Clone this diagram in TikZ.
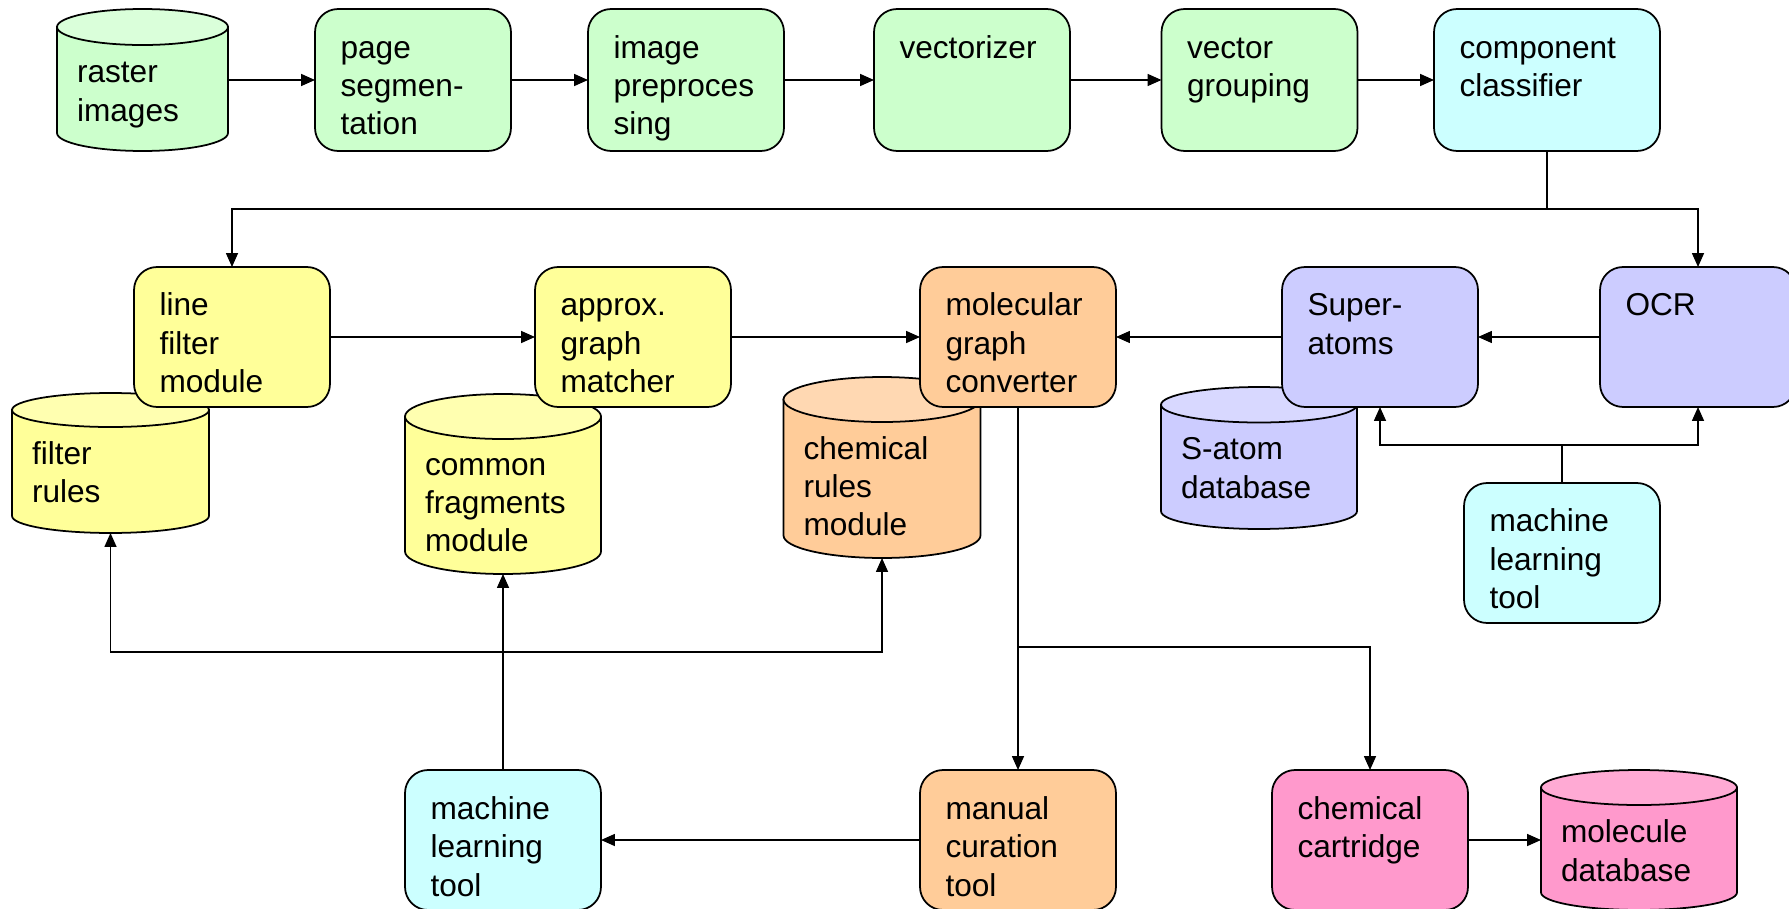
\documentclass[tikz,border=0pt]{standalone}
\usepackage{fontspec}
\setmainfont{Liberation Sans}
\usepackage{tikz}
\usetikzlibrary{positioning,arrows.meta}

\definecolor{grn}{HTML}{CCFFCC}
\definecolor{grntop}{HTML}{DAFFDA}
\definecolor{cyn}{HTML}{CCFFFF}
\definecolor{ylw}{HTML}{FFFF99}
\definecolor{ylwtop}{HTML}{FFFFB0}
\definecolor{org}{HTML}{FFCC99}
\definecolor{orgtop}{HTML}{FFD8B2}
\definecolor{lav}{HTML}{CCCCFF}
\definecolor{lavtop}{HTML}{D8D8FF}
\definecolor{pnk}{HTML}{FF99CC}
\definecolor{pnktop}{HTML}{FFAAD4}

\newcommand{\boxstrut}{\rule{0pt}{15.3pt}}

\begin{document}
\begin{tikzpicture}[x=0.02cm, y=0.02cm, every node/.style={outer sep=0pt},
  box/.style={draw, line width=1pt, rounded corners=0.46cm, inner sep=0pt, minimum width=3.92cm, minimum height=2.8cm},
  can/.style={inner sep=0pt, minimum width=3.92cm},
  txt/.style={inner sep=0pt, align=left, font=\fontsize{18}{21.8}\selectfont},
  arr/.style={line width=0.9pt, -{Triangle[length=0.28cm,width=0.24cm]}},
  line/.style={line width=0.9pt}]
\path[use as bounding box, fill=white] (0,0) rectangle (1789,-909);

\node[can, minimum width=3.42cm, minimum height=2.84cm] (raster) at (142.5,-80) {};
\draw[line width=1pt, fill=grn] ([yshift=-0.36cm]raster.north west) -- ([yshift=0.36cm]raster.south west) arc[start angle=180, end angle=360, x radius=1.71cm, y radius=0.36cm] -- ([yshift=-0.36cm]raster.north east) -- cycle;
\draw[line width=1pt, fill=grntop] ([yshift=-0.36cm]raster.north) ellipse[x radius=1.71cm, y radius=0.36cm];
\node[txt, below right=0.94cm and 0.4cm of raster.north west] (raster-t) {\boxstrut raster\\images};

\node[can, minimum width=3.94cm, minimum height=2.8cm] (filterrules) at (110.5,-463) {};
\draw[line width=1pt, fill=ylw] ([yshift=-0.34cm]filterrules.north west) -- ([yshift=0.34cm]filterrules.south west) arc[start angle=180, end angle=360, x radius=1.97cm, y radius=0.34cm] -- ([yshift=-0.34cm]filterrules.north east) -- cycle;
\draw[line width=1pt, fill=ylwtop] ([yshift=-0.34cm]filterrules.north) ellipse[x radius=1.97cm, y radius=0.34cm];
\node[txt, below right=0.89cm and 0.4cm of filterrules.north west] (filterrules-t) {\boxstrut filter\\rules};

\node[can, minimum height=3.6cm] (fragments) at (503,-484) {};
\draw[line width=1pt, fill=ylw] ([yshift=-0.45cm]fragments.north west) -- ([yshift=0.45cm]fragments.south west) arc[start angle=180, end angle=360, x radius=1.96cm, y radius=0.45cm] -- ([yshift=-0.45cm]fragments.north east) -- cycle;
\draw[line width=1pt, fill=ylwtop] ([yshift=-0.45cm]fragments.north) ellipse[x radius=1.96cm, y radius=0.45cm];
\node[txt, below right=1.09cm and 0.4cm of fragments.north west] (fragments-t) {\boxstrut common\\fragments\\module};

\node[can, minimum width=3.94cm, minimum height=3.62cm] (chemrules) at (882,-467.5) {};
\draw[line width=1pt, fill=org] ([yshift=-0.45cm]chemrules.north west) -- ([yshift=0.45cm]chemrules.south west) arc[start angle=180, end angle=360, x radius=1.97cm, y radius=0.45cm] -- ([yshift=-0.45cm]chemrules.north east) -- cycle;
\draw[line width=1pt, fill=orgtop] ([yshift=-0.45cm]chemrules.north) ellipse[x radius=1.97cm, y radius=0.45cm];
\node[txt, below right=1.11cm and 0.4cm of chemrules.north west] (chemrules-t) {\boxstrut chemical\\rules\\module};

\node[can, minimum height=2.84cm] (satomdb) at (1259,-458) {};
\draw[line width=1pt, fill=lav] ([yshift=-0.355cm]satomdb.north west) -- ([yshift=0.355cm]satomdb.south west) arc[start angle=180, end angle=360, x radius=1.96cm, y radius=0.355cm] -- ([yshift=-0.355cm]satomdb.north east) -- cycle;
\draw[line width=1pt, fill=lavtop] ([yshift=-0.355cm]satomdb.north) ellipse[x radius=1.96cm, y radius=0.355cm];
\node[txt, below right=0.92cm and 0.4cm of satomdb.north west] (satomdb-t) {\boxstrut S-atom\\database};

\node[can, minimum height=2.8cm] (moldb) at (1639,-840) {};
\draw[line width=1pt, fill=pnk] ([yshift=-0.35cm]moldb.north west) -- ([yshift=0.35cm]moldb.south west) arc[start angle=180, end angle=360, x radius=1.96cm, y radius=0.35cm] -- ([yshift=-0.35cm]moldb.north east) -- cycle;
\draw[line width=1pt, fill=pnktop] ([yshift=-0.35cm]moldb.north) ellipse[x radius=1.96cm, y radius=0.35cm];
\node[txt, below right=0.92cm and 0.4cm of moldb.north west] (moldb-t) {\boxstrut molecule\\database};

\node[box, fill=grn, minimum height=2.84cm] (pageseg) at (413,-80) {};
\node[box, fill=grn, minimum height=2.84cm] (preproc) at (686,-80) {};
\node[box, fill=grn, minimum height=2.84cm] (vectorizer) at (972,-80) {};
\node[box, fill=grn, minimum height=2.84cm] (grouping) at (1259.5,-80) {};
\node[box, fill=cyn, minimum height=2.84cm, minimum width=4.52cm] (classifier) at (1547,-80) {};

\node[box, fill=ylw] (linefilter) at (232,-337) {};
\node[box, fill=ylw] (matcher) at (633,-337) {};
\node[box, fill=org] (converter) at (1018,-337) {};
\node[box, fill=lav] (superatoms) at (1380,-337) {};
\node[box, fill=lav] (ocr) at (1698,-337) {};
\node[box, fill=cyn] (mltool) at (1562,-553) {};

\node[box, fill=cyn] (mlearn) at (503,-840) {};
\node[box, fill=org] (curation) at (1018,-840) {};
\node[box, fill=pnk] (cartridge) at (1370,-840) {};

\node[txt, below right=0.45cm and 0.51cm of pageseg.north west] (pageseg-t) {\boxstrut page\\segmen-\\tation};
\node[txt, below right=0.45cm and 0.51cm of preproc.north west] (preproc-t) {\boxstrut image\\preproces\\sing};
\node[txt, below right=0.45cm and 0.51cm of vectorizer.north west] (vectorizer-t) {\boxstrut vectorizer};
\node[txt, below right=0.45cm and 0.51cm of grouping.north west] (grouping-t) {\boxstrut vector\\grouping};
\node[txt, below right=0.45cm and 0.51cm of classifier.north west] (classifier-t) {\boxstrut component\\classifier};
\node[txt, below right=0.44cm and 0.51cm of linefilter.north west] (linefilter-t) {\boxstrut line\\filter\\module};
\node[txt, below right=0.44cm and 0.51cm of matcher.north west] (matcher-t) {\boxstrut approx.\\graph\\matcher};
\node[txt, below right=0.44cm and 0.51cm of converter.north west] (converter-t) {\boxstrut molecular\\graph\\converter};
\node[txt, below right=0.44cm and 0.51cm of superatoms.north west] (superatoms-t) {\boxstrut Super-\\atoms};
\node[txt, below right=0.44cm and 0.51cm of ocr.north west] (ocr-t) {\boxstrut OCR};
\node[txt, below right=0.44cm and 0.51cm of mltool.north west] (mltool-t) {\boxstrut machine\\learning\\tool};
\node[txt, below right=0.45cm and 0.51cm of mlearn.north west] (mlearn-t) {\boxstrut machine\\learning\\tool};
\node[txt, below right=0.45cm and 0.51cm of curation.north west] (curation-t) {\boxstrut manual\\curation\\tool};
\node[txt, below right=0.45cm and 0.51cm of cartridge.north west] (cartridge-t) {\boxstrut chemical\\cartridge};

\draw[arr] (raster) -- (pageseg);
\draw[arr] (pageseg) -- (preproc);
\draw[arr] (preproc) -- (vectorizer);
\draw[arr] (vectorizer) -- (grouping);
\draw[arr] (grouping) -- (classifier);

\draw[line] (classifier.south) -- ++(0,-58) coordinate (split1);
\draw[arr] (split1) -| (linefilter.north);
\draw[arr] (split1) -| (ocr.north);

\draw[arr] (linefilter) -- (matcher);
\draw[arr] (matcher) -- (converter);
\draw[arr] (superatoms) -- (converter);
\draw[arr] (ocr) -- (superatoms);

\draw[line] (mltool.north) -- ++(0,38) coordinate (split2);
\draw[arr] (split2) -| (superatoms.south);
\draw[arr] (split2) -| (ocr.south);

\draw[line] (converter.south) -- ++(0,-240) coordinate (split3);
\draw[arr] (split3) -- (curation.north);
\draw[arr] (split3) -| (cartridge.north);

\draw[arr] (curation) -- (mlearn);
\draw[arr] (cartridge) -- (moldb);

\draw[line] (mlearn.north) -- ++(0,118) coordinate (split4);
\draw[arr] (split4) -- (fragments.south);
\draw[arr] (split4) -| (filterrules.south);
\draw[arr] (split4) -| (chemrules.south);
\end{tikzpicture}
\end{document}
